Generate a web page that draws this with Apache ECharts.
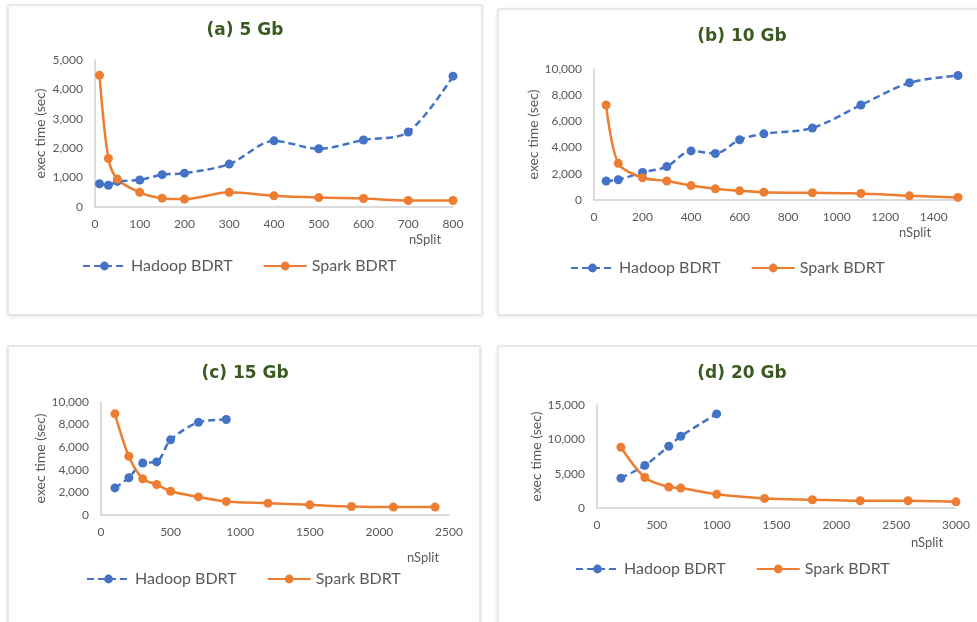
<!DOCTYPE html>
<html>
<head>
<meta charset="utf-8">
<script src="https://cdn.jsdelivr.net/npm/echarts@6/dist/echarts.min.js"></script>
<style>
  html, body { margin: 0; padding: 0; background: #ffffff; }
  #chart { width: 977px; height: 622px; }
</style>
</head>
<body>
<div id="chart"></div>
<script>
// (a) 5 Gb
const aSplit  = [10, 30, 50, 100, 150, 200, 300, 400, 500, 600, 700, 800];
const aHadoop = [790, 740, 870, 920, 1100, 1150, 1460, 2250, 1980, 2280, 2550, 4450];
const aSpark  = [4480, 1650, 950, 500, 300, 270, 500, 380, 320, 290, 220, 220];

// (b) 10 Gb
const bSplit  = [50, 100, 200, 300, 400, 500, 600, 700, 900, 1100, 1300, 1500];
const bHadoop = [1450, 1550, 2100, 2550, 3750, 3550, 4600, 5050, 5500, 7250, 8950, 9500];
const bSpark  = [7250, 2800, 1700, 1450, 1100, 850, 700, 600, 550, 500, 320, 200];

// (c) 15 Gb
const cHadoopSplit = [100, 200, 300, 400, 500, 700, 900];
const cHadoop      = [2400, 3300, 4600, 4700, 6650, 8200, 8450];
const cSparkSplit  = [100, 200, 300, 400, 500, 700, 900, 1200, 1500, 1800, 2100, 2400];
const cSpark       = [8950, 5200, 3200, 2700, 2100, 1600, 1200, 1050, 900, 750, 700, 700];

// (d) 20 Gb
const dHadoopSplit = [200, 400, 600, 700, 1000];
const dHadoop      = [4350, 6200, 9000, 10450, 13700];
const dSparkSplit  = [200, 400, 600, 700, 1000, 1400, 1800, 2200, 2600, 3000];
const dSpark       = [8850, 4450, 3050, 2900, 2000, 1400, 1200, 1050, 1050, 900];

const panelTitles = ['(a) 5 Gb', '(b) 10 Gb', '(c) 15 Gb', '(d) 20 Gb'];
const seriesNames = ['Hadoop BDRT', 'Spark BDRT'];
const xName = 'nSplit';
const yName = 'exec time (sec)';

const BLUE = '#4472C4';
const ORANGE = '#ED7D31';
const TEXT = '#595959';
const AXIS = '#d0d0d0';
const FONT = 'Lato, "Open Sans", sans-serif';

const pairs = (xs, ys) => xs.map((x, i) => [x, ys[i]]);
const thousands = v => String(v).replace(/\B(?=(\d{3})+(?!\d))/g, ',');

// layout of each panel: grid box, axis ranges, title/legend/name positions
const panels = [
  { grid: { left: 95, top: 60, width: 358, height: 147 }, xMax: 800, xInt: 100, yMax: 5000, yInt: 1000,
    title: [245, 22], legend: [82, 258], nameShift: -28, nameDrop: 26 },
  { grid: { left: 594, top: 69, width: 364, height: 131 }, xMax: 1500, xInt: 200, yMax: 10000, yInt: 2000,
    title: [742, 28], legend: [570, 260], nameShift: -43, nameDrop: 26, hideMax: true },
  { grid: { left: 101, top: 402, width: 348, height: 113 }, xMax: 2500, xInt: 500, yMax: 10000, yInt: 2000,
    title: [245, 365], legend: [86, 571], nameShift: -26, nameDrop: 36 },
  { grid: { left: 597, top: 405, width: 359, height: 103 }, xMax: 3000, xInt: 500, yMax: 15000, yInt: 5000,
    title: [742, 365], legend: [575, 561], nameShift: -29, nameDrop: 28 }
];

const seriesData = [
  [pairs(aSplit, aHadoop), pairs(aSplit, aSpark)],
  [pairs(bSplit, bHadoop), pairs(bSplit, bSpark)],
  [pairs(cHadoopSplit, cHadoop), pairs(cSparkSplit, cSpark)],
  [pairs(dHadoopSplit, dHadoop), pairs(dSparkSplit, dSpark)]
];

const option = {
  backgroundColor: '#ffffff',
  animation: false,
  textStyle: { fontFamily: FONT },
  title: panels.map((p, i) => ({
    text: panelTitles[i],
    left: p.title[0], top: p.title[1], textAlign: 'center', padding: 0,
    textStyle: { fontFamily: '"DejaVu Sans", sans-serif', fontSize: 17, fontWeight: 'bold', color: '#3a5a22' }
  })),
  legend: panels.map(p => ({
    data: seriesNames,
    left: p.legend[0], top: p.legend[1], padding: 0,
    itemWidth: 43, itemHeight: 11, itemGap: 30,
    textStyle: { fontFamily: FONT, fontSize: 16, color: TEXT }
  })),
  grid: panels.map(p => Object.assign({ containLabel: false }, p.grid)),
  xAxis: panels.map((p, i) => ({
    type: 'value', gridIndex: i, min: 0, max: p.xMax, interval: p.xInt,
    name: xName, nameLocation: 'end', nameGap: p.nameShift,
    nameTextStyle: { align: 'center', verticalAlign: 'top', padding: [p.nameDrop, 0, 0, 0],
                     fontFamily: FONT, fontSize: 13, color: TEXT },
    axisLine: { show: true, lineStyle: { color: AXIS, width: 1.5 } },
    axisTick: { show: false },
    splitLine: { show: false },
    axisLabel: { color: TEXT, fontSize: 12, fontFamily: FONT, margin: 11,
                 showMaxLabel: !p.hideMax, formatter: v => String(v) }
  })),
  yAxis: panels.map((p, i) => ({
    type: 'value', gridIndex: i, min: 0, max: p.yMax, interval: p.yInt,
    name: yName, nameLocation: 'middle', nameGap: 48, nameRotate: 90,
    nameTextStyle: { fontFamily: FONT, fontSize: 14, color: TEXT },
    axisLine: { show: true, lineStyle: { color: AXIS, width: 1.5 } },
    axisTick: { show: false },
    splitLine: { show: false },
    axisLabel: { color: TEXT, fontSize: 12, fontFamily: FONT, margin: 12, formatter: thousands }
  })),
  series: [],
  graphic: [
    { type: 'rect', shape: { x: 8, y: 5, width: 474, height: 310 } },
    { type: 'rect', shape: { x: 498, y: 9, width: 490, height: 306 } },
    { type: 'rect', shape: { x: 8, y: 346, width: 472, height: 290 } },
    { type: 'rect', shape: { x: 498, y: 346, width: 490, height: 290 } }
  ].map(r => Object.assign(r, {
    z: -10, silent: true,
    style: { fill: '#ffffff', stroke: '#d9d9d9', lineWidth: 1,
             shadowBlur: 4, shadowColor: 'rgba(0,0,0,0.10)', shadowOffsetY: 1 }
  }))
};

seriesData.forEach((pair, i) => {
  option.series.push({
    name: seriesNames[0], type: 'line', xAxisIndex: i, yAxisIndex: i,
    data: pair[0], smooth: 0.3, symbol: 'circle', symbolSize: 9,
    lineStyle: { color: BLUE, width: 2.5, type: [7, 4] },
    itemStyle: { color: BLUE }
  });
  option.series.push({
    name: seriesNames[1], type: 'line', xAxisIndex: i, yAxisIndex: i,
    data: pair[1], smooth: 0.3, symbol: 'circle', symbolSize: 9,
    lineStyle: { color: ORANGE, width: 2.5 },
    itemStyle: { color: ORANGE }
  });
});

const chart = echarts.init(document.getElementById('chart'), null, { renderer: 'canvas' });
chart.setOption(option);
</script>
</body>
</html>
